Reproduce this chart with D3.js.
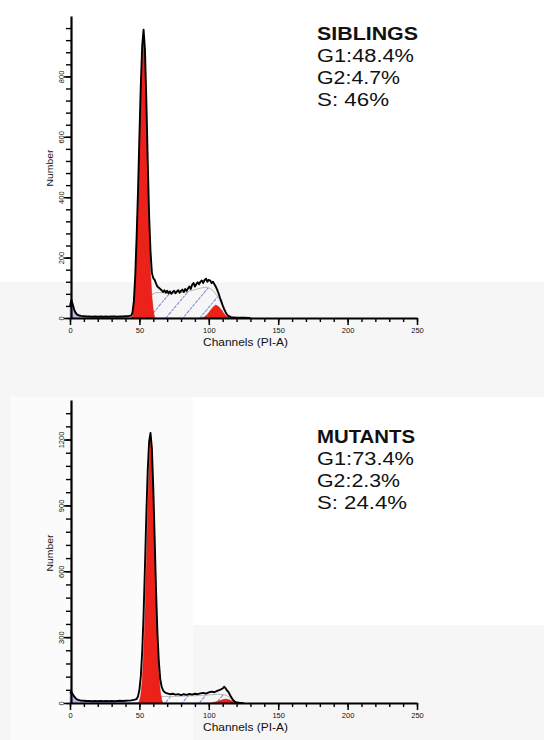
<!DOCTYPE html>
<html>
<head>
<meta charset="utf-8">
<script src="https://cdn.jsdelivr.net/npm/d3@7"></script>
<style>
  html, body { margin: 0; padding: 0; background: #f6f6f6; }
  svg { display: block; }
  text { font-family: "Liberation Sans", Arial, sans-serif; fill: #111; }
</style>
</head>
<body>
<svg id="chart" width="544" height="740"></svg>
<script>
// DNA content histograms (ModFit style), [channel, count]

const xTicks = [0, 50, 100, 150, 200, 250];

// siblings
const sibYTicks = [0, 200, 400, 600, 800];
const sibHistogram = [
    [0, 40], [1, 60], [2, 45], [3, 28], [4, 18], [5, 12], [6, 9], [8, 7], [10, 6], [12, 5],
    [14, 5], [16, 4], [18, 5], [20, 4], [22, 5], [24, 4], [26, 5], [28, 4], [30, 5], [32, 5],
    [34, 4], [36, 5], [38, 5], [40, 6], [42, 6], [44, 8], [45, 18], [46, 55], [47, 140], [48, 270],
    [49, 420], [50, 600], [51, 770], [52, 900], [53, 955], [54, 890], [55, 720], [56, 520], [57, 340], [58, 220],
    [59, 150], [60, 132], [61, 126], [62, 114], [63, 104], [64, 100], [65, 96], [66, 92], [67, 86], [68, 92],
    [69, 84], [70, 90], [71, 82], [72, 88], [73, 80], [74, 86], [75, 90], [76, 82], [77, 88], [78, 92],
    [79, 84], [80, 90], [81, 94], [82, 86], [83, 96], [84, 90], [85, 98], [86, 104], [87, 96], [88, 110],
    [89, 116], [90, 104], [91, 112], [92, 118], [93, 112], [94, 120], [95, 124], [96, 116], [97, 126], [98, 130],
    [99, 120], [100, 126], [101, 124], [102, 116], [103, 120], [104, 112], [105, 104], [106, 94], [107, 82], [108, 68],
    [109, 55], [110, 42], [111, 30], [112, 20], [113, 12], [114, 7], [115, 5], [116, 3], [118, 2], [120, 1],
    [125, 1], [130, 0]
];
const sibG1 = [
    [44, 0], [45, 6], [46, 40], [47, 120], [48, 250], [49, 400], [50, 580], [51, 750], [52, 880], [53, 940],
    [54, 870], [55, 700], [56, 490], [57, 290], [58, 150], [59, 70], [60, 25], [61, 0]
];
const sibG2 = [
    [95, 0], [97, 4], [99, 12], [101, 24], [103, 36], [105, 43], [107, 38], [109, 27], [111, 14], [113, 5], [115, 0]
];
const sibS = [
    [50, 0], [53, 30], [56, 60], [59, 78], [62, 84], [66, 84], [70, 82], [75, 82], [80, 84], [85, 88],
    [90, 94], [95, 100], [98, 102], [101, 98], [104, 86], [107, 66], [110, 40], [113, 14], [115, 0]
];
const sibDebris = [
    [0, 38], [1, 55], [2, 40], [3, 25], [4, 15], [5, 10], [6, 7], [8, 5], [10, 4], [15, 3],
    [25, 3], [35, 2], [45, 2], [52, 0]
];
const sibLabels = ['SIBLINGS', 'G1:48.4%', 'G2:4.7%', 'S: 46%'];

// mutants
const mutYTicks = [0, 300, 600, 900, 1200];
const mutHistogram = [
    [0, 45], [1, 52], [2, 40], [3, 30], [4, 22], [5, 17], [6, 14], [8, 11], [10, 10], [12, 9],
    [14, 9], [16, 8], [18, 9], [20, 8], [22, 9], [24, 8], [26, 9], [28, 8], [30, 9], [32, 8],
    [34, 9], [36, 10], [38, 9], [40, 10], [42, 11], [44, 12], [46, 14], [48, 18], [49, 30], [50, 60],
    [51, 120], [52, 230], [53, 400], [54, 620], [55, 860], [56, 1060], [57, 1190], [58, 1230], [59, 1160], [60, 980],
    [61, 750], [62, 510], [63, 320], [64, 190], [65, 110], [66, 75], [67, 58], [68, 50], [69, 46], [70, 44],
    [72, 40], [74, 42], [76, 38], [78, 40], [80, 36], [82, 40], [84, 37], [86, 41], [88, 38], [90, 42],
    [92, 40], [94, 44], [96, 46], [98, 43], [100, 48], [102, 52], [104, 49], [106, 55], [108, 60], [110, 66],
    [111, 74], [112, 68], [113, 58], [114, 52], [115, 40], [116, 28], [117, 18], [118, 10], [119, 5], [120, 2],
    [122, 1], [125, 0]
];
const mutG1 = [
    [49, 0], [50, 8], [51, 35], [52, 100], [53, 220], [54, 400], [55, 630], [56, 880], [57, 1080], [58, 1200],
    [59, 1140], [60, 950], [61, 710], [62, 470], [63, 270], [64, 130], [65, 55], [66, 15], [67, 0]
];
const mutG2 = [
    [102, 0], [104, 3], [106, 7], [108, 11], [110, 15], [112, 18], [114, 16], [116, 11], [118, 5], [120, 1], [121, 0]
];
const mutS = [
    [54, 0], [57, 14], [60, 24], [64, 28], [68, 30], [75, 30], [80, 31], [85, 32], [90, 33], [95, 35],
    [100, 37], [105, 39], [108, 40], [111, 38], [114, 30], [117, 16], [120, 4], [121, 0]
];
const mutDebris = [
    [0, 45], [1, 50], [2, 38], [3, 28], [4, 20], [5, 15], [6, 12], [8, 9], [10, 7], [14, 6],
    [20, 5], [30, 4], [40, 3], [50, 2], [56, 0]
];
const mutLabels = ['MUTANTS', 'G1:73.4%', 'G2:2.3%', 'S: 24.4%'];

class FlowPanel {
    constructor(svg, opts) {
        this.svg = svg;
        this.opts = opts;
        this.g = svg.append('g');

        this.x = d3.scaleLinear().domain([0, 250]).range([70, 417]);
        this.y = d3.scaleLinear().domain([0, opts.yMax]).range([opts.bottom, opts.top]);

        this.renderModel();
        this.renderHistogram();
        this.renderAxes();
        this.renderStats();
    }

    area() {
        return d3.area()
            .x(d => this.x(d[0]))
            .y0(this.y(0))
            .y1(d => this.y(d[1]));
    }

    renderModel() {
        const o = this.opts;

        this.g.append('path')
            .datum(o.debris)
            .attr('d', this.area())
            .attr('fill', '#b9b9e2')
            .attr('stroke', '#9a9ad0')
            .attr('stroke-width', 0.6);

        // S phase: hatched
        this.g.append('path')
            .datum(o.s)
            .attr('d', this.area())
            .attr('fill', 'url(#hatch)')
            .attr('stroke', '#a8a8a8')
            .attr('stroke-width', 0.8);

        [o.g1, o.g2].forEach(peak => {
            this.g.append('path')
                .datum(peak)
                .attr('d', this.area())
                .attr('fill', '#ec2119')
                .attr('stroke', '#c81410')
                .attr('stroke-width', 0.5);
        });
    }

    renderHistogram() {
        const line = d3.line()
            .x(d => this.x(d[0]))
            .y(d => this.y(d[1]));

        this.g.append('path')
            .datum(this.opts.histogram)
            .attr('d', line)
            .attr('fill', 'none')
            .attr('stroke', '#000')
            .attr('stroke-width', 1.9)
            .attr('stroke-linejoin', 'round');
    }

    renderAxes() {
        const o = this.opts;

        // x axis: minor every 10, major every 50
        this.g.append('g')
            .attr('transform', `translate(0,${o.bottom})`)
            .call(d3.axisBottom(this.x).tickValues(d3.range(0, 251, 10)).tickSize(4).tickSizeOuter(0).tickFormat(''))
            .call(g => g.select('.domain').remove())
            .call(g => g.selectAll('line').attr('stroke-width', 1.4));

        const xAxis = this.g.append('g')
            .attr('transform', `translate(0,${o.bottom})`)
            .call(d3.axisBottom(this.x).tickValues(xTicks).tickSize(7).tickSizeOuter(0).tickPadding(2.5));
        xAxis.select('.domain').attr('stroke-width', 2.2);
        xAxis.selectAll('line').attr('stroke-width', 1.5);
        xAxis.selectAll('text')
            .attr('font-size', 7.5)
            .attr('fill', '#1a1a1a')
            .attr('font-family', '"Liberation Sans", Arial, sans-serif');

        // y axis
        this.g.append('g')
            .attr('transform', 'translate(71,0)')
            .call(d3.axisLeft(this.y).tickValues(d3.range(0, o.yMax, o.yMinor)).tickSize(5).tickSizeOuter(0).tickFormat(''))
            .call(g => g.select('.domain').remove())
            .call(g => g.selectAll('line').attr('stroke-width', 1.4));

        const yAxis = this.g.append('g')
            .attr('transform', 'translate(71,0)')
            .call(d3.axisLeft(this.y).tickValues(o.yTicks).tickSize(7).tickSizeOuter(0).tickFormat(d3.format('d')));
        yAxis.select('.domain').attr('stroke-width', 2.2);
        yAxis.selectAll('line').attr('stroke-width', 1.5);
        yAxis.selectAll('text')
            .attr('x', null)
            .attr('dy', null)
            .attr('text-anchor', 'middle')
            .attr('transform', 'translate(-7,0) rotate(-90)')
            .attr('font-size', 7.5)
            .attr('fill', '#1a1a1a')
            .attr('font-family', '"Liberation Sans", Arial, sans-serif');

        this.g.append('text')
            .attr('transform', `translate(53,${o.numberY}) rotate(-90)`)
            .attr('text-anchor', 'middle')
            .attr('font-size', 9.5)
            .attr('textLength', 37)
            .attr('lengthAdjust', 'spacingAndGlyphs')
            .text('Number');

        this.g.append('text')
            .attr('x', 203)
            .attr('y', o.bottom + 28)
            .attr('font-size', 11)
            .attr('textLength', 85)
            .attr('lengthAdjust', 'spacingAndGlyphs')
            .text('Channels (PI-A)');
    }

    renderStats() {
        const o = this.opts;
        o.labels.forEach((t, i) => {
            this.g.append('text')
                .attr('x', 317)
                .attr('y', o.textY + i * 22)
                .attr('font-size', 18)
                .attr('font-weight', i === 0 ? 'bold' : 'normal')
                .attr('textLength', o.textWidths[i])
                .attr('lengthAdjust', 'spacingAndGlyphs')
                .text(t);
        });
    }
}

const svg = d3.select('#chart');

// background blocks
svg.append('rect').attr('width', 544).attr('height', 740).attr('fill', '#f6f6f6');
svg.append('rect').attr('x', 10).attr('y', 397).attr('width', 183).attr('height', 343).attr('fill', '#fbfbfb');
svg.append('rect').attr('width', 544).attr('height', 282).attr('fill', '#fff');
svg.append('rect').attr('x', 193).attr('y', 397).attr('width', 351).attr('height', 228).attr('fill', '#fff');

const pattern = svg.append('defs').append('pattern')
    .attr('id', 'hatch')
    .attr('width', 13)
    .attr('height', 13)
    .attr('patternUnits', 'userSpaceOnUse')
    .attr('patternTransform', 'rotate(40)');
pattern.append('line')
    .attr('x1', 6.5).attr('y1', 0)
    .attr('x2', 6.5).attr('y2', 13)
    .attr('stroke', '#7373d0')
    .attr('stroke-width', 0.9)
    .attr('stroke-dasharray', '3 1');

new FlowPanel(svg, {
    top: 16, bottom: 318, yMax: 1000, yMinor: 40, yTicks: sibYTicks,
    histogram: sibHistogram, g1: sibG1, g2: sibG2, s: sibS, debris: sibDebris,
    labels: sibLabels, textY: 40, textWidths: [101, 97, 83, 72], numberY: 168
});

new FlowPanel(svg, {
    top: 400, bottom: 703, yMax: 1380, yMinor: 60, yTicks: mutYTicks,
    histogram: mutHistogram, g1: mutG1, g2: mutG2, s: mutS, debris: mutDebris,
    labels: mutLabels, textY: 443, textWidths: [98, 97, 83, 90], numberY: 553
});
</script>
</body>
</html>
